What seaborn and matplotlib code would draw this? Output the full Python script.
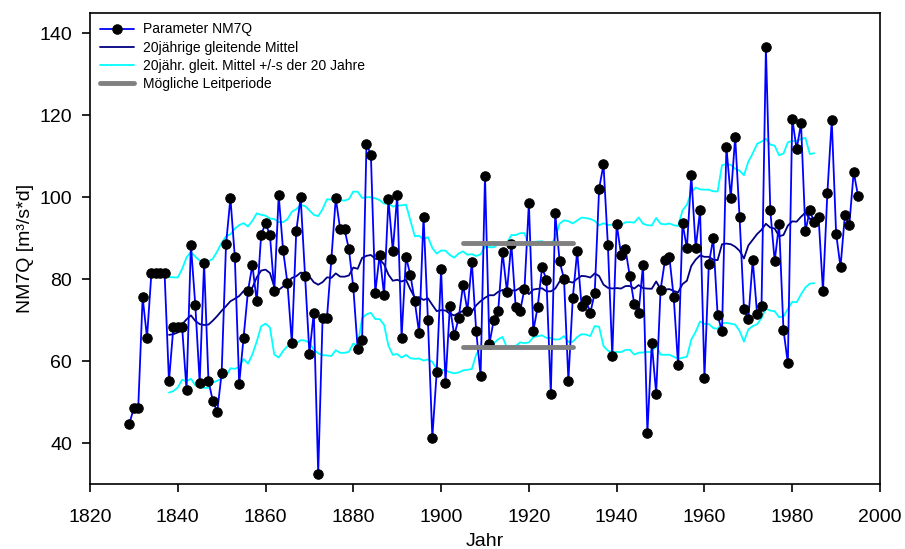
import numpy as np
import pandas as pd
import matplotlib
matplotlib.use('Agg')
import matplotlib.pyplot as plt
import seaborn as sns

########################################
# data
########################################
years = np.arange(1829, 1996)
nm7q = [
    44.8, 48.7, 48.7, 75.6, 65.8, 81.5, 81.5, 81.5, 81.5, 55.1,   # 1829-1838
    68.3, 68.3, 68.3, 53.1, 88.4, 73.7, 54.8, 84.0, 55.2, 50.3,   # 1839-1848
    47.7, 57.1, 88.5, 99.8, 85.5, 54.5, 65.8, 77.1, 83.5, 74.6,   # 1849-1858
    90.8, 93.7, 90.8, 77.1, 100.5, 87.1, 79.0, 64.4, 91.7, 100.0, # 1859-1868
    80.9, 61.9, 71.9, 32.6, 70.6, 70.6, 84.9, 99.8, 92.2, 92.2,   # 1869-1878
    87.3, 78.0, 62.9, 65.1, 113.0, 110.4, 76.7, 86.0, 76.2, 99.5, # 1879-1888
    86.9, 100.5, 65.8, 85.4, 81.1, 74.6, 66.8, 95.3, 70.0, 41.4,  # 1889-1898
    57.4, 82.4, 54.8, 73.4, 66.3, 70.5, 78.6, 72.3, 84.3, 67.3,   # 1899-1908
    56.5, 105.2, 64.2, 70.1, 72.2, 86.6, 77.0, 88.7, 73.2, 72.2,  # 1909-1918
    77.7, 98.6, 67.4, 73.2, 82.9, 79.9, 52.1, 96.1, 84.4, 80.1,   # 1919-1928
    55.3, 75.4, 86.8, 73.6, 75.0, 71.8, 76.7, 102.1, 108.0, 88.3, # 1929-1938
    61.3, 93.5, 86.0, 87.4, 80.7, 74.0, 71.9, 83.5, 42.6, 64.4,   # 1939-1948
    52.1, 77.4, 84.6, 85.5, 75.6, 59.0, 93.7, 87.6, 105.5, 87.6,  # 1949-1958
    96.8, 56.0, 83.8, 90.0, 71.3, 67.3, 112.3, 99.9, 114.7, 95.2, # 1959-1968
    72.8, 70.3, 84.7, 71.5, 73.4, 136.6, 96.8, 84.4, 93.5, 67.7,  # 1969-1978
    59.5, 119.2, 111.7, 118.0, 91.7, 96.8, 93.9, 95.2, 77.1, 101.0, # 1979-1988
    118.8, 91.1, 83.0, 95.7, 93.2, 106.2, 100.3,                  # 1989-1995
]

# possible lead period (Leitperiode)
lead_years = [1905, 1930]
lead_upper = 88.8
lead_lower = 63.4

df = pd.DataFrame({'Jahr': years, 'NM7Q': nm7q})

# 20-year moving mean and +/- s (window i-9 .. i+10)
roll = df['NM7Q'].rolling(20)
df['mittel'] = roll.mean().shift(-10)
df['s'] = roll.std().shift(-10)
df['oben'] = df['mittel'] + df['s']
df['unten'] = df['mittel'] - df['s']

########################################
# plot
########################################
sns.set_style('ticks')
plt.rcParams['font.family'] = ['Liberation Sans', 'DejaVu Sans']
plt.rcParams['text.color'] = 'black'
plt.rcParams['axes.labelcolor'] = 'black'
plt.rcParams['xtick.color'] = 'black'
plt.rcParams['ytick.color'] = 'black'

fig = plt.figure(figsize=(9.05, 5.49), dpi=100)
ax = fig.add_axes([0.0994, 0.1178, 0.873, 0.859])

sns.lineplot(data=df, x='Jahr', y='NM7Q', color='#0000ff', lw=1.3,
             marker='o', markersize=6.8, markerfacecolor='black',
             markeredgecolor='black', label='Parameter NM7Q', ax=ax, zorder=4)
sns.lineplot(data=df, x='Jahr', y='mittel', color='#000080', lw=1.3,
             label='20jährige gleitende Mittel', ax=ax, zorder=3)
sns.lineplot(data=df, x='Jahr', y='oben', color='#00ffff', lw=1.3,
             label='20jähr. gleit. Mittel +/-s der 20 Jahre', ax=ax, zorder=3)
sns.lineplot(data=df, x='Jahr', y='unten', color='#00ffff', lw=1.3,
             label='_nolegend_', ax=ax, zorder=3)
sns.lineplot(x=lead_years, y=[lead_upper, lead_upper], color='#808080', lw=3.5,
             solid_capstyle='round', label='Mögliche Leitperiode', ax=ax, zorder=5)
sns.lineplot(x=lead_years, y=[lead_lower, lead_lower], color='#808080', lw=3.5,
             solid_capstyle='round', label='_nolegend_', ax=ax, zorder=5)

ax.set_xlim(1820, 2000)
ax.set_ylim(30, 145)
ax.set_xticks(np.arange(1820, 2001, 20))
ax.set_yticks(np.arange(40, 141, 20))
ax.tick_params(labelsize=14, length=6, width=1.2, color='black', labelcolor='black')
ax.tick_params(axis='x', pad=12)
ax.tick_params(axis='y', pad=7)
for sp in ax.spines.values():
    sp.set_visible(True)
    sp.set_color('black')
    sp.set_linewidth(1.2)

ax.set_xlabel('Jahr', fontsize=14, labelpad=5)
ax.set_ylabel('NM7Q [m³/s*d]', fontsize=14, labelpad=4)

leg = ax.legend(loc='upper left', frameon=False, fontsize=10,
                handlelength=2.5, handletextpad=0.6, labelspacing=0.3,
                borderaxespad=0.3)

fig.savefig('out.png', dpi=100)
